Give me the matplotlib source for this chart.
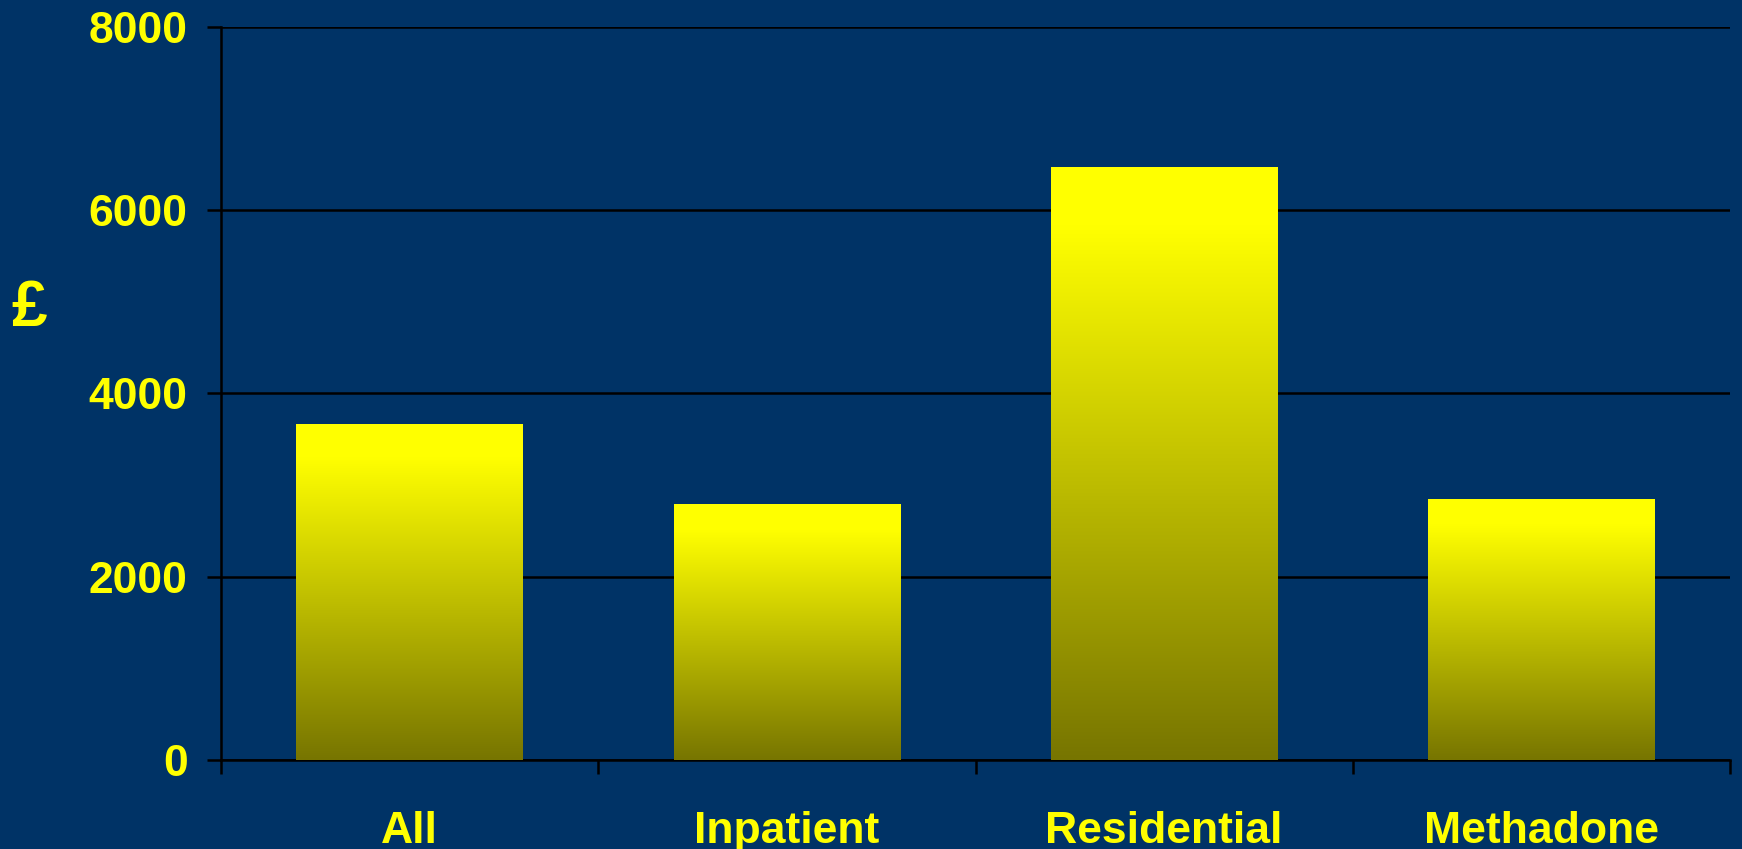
import numpy as np
import matplotlib
matplotlib.use("Agg")
import matplotlib.pyplot as plt
from matplotlib.colors import LinearSegmentedColormap

# Chart data
categories = ["All", "Inpatient", "Residential", "Methadone"]
costs = [3670, 2790, 6470, 2850]
y_ticks = [0, 2000, 4000, 6000, 8000]

bg = "#003366"
text_col = "#FFFF00"

plt.rcParams['font.family'] = ['Liberation Sans', 'DejaVu Sans']

fig = plt.figure(figsize=(17.42, 8.49), dpi=100, facecolor=bg)
ax = fig.add_axes([221 / 1742, 1 - 760 / 849, (1730 - 221) / 1742, (760 - 26.7) / 849])
ax.set_facecolor(bg)

x = np.arange(len(categories)) + 0.5
bars = ax.bar(x, costs, width=0.6, color="none", edgecolor="none", zorder=3)

# vertical gradient, dark olive at bottom -> yellow at top
cmap = LinearSegmentedColormap.from_list("yel", [(0, "#777500"), (0.9, "#FFFF00"), (1, "#FFFF00")])
grad = np.linspace(0, 1, 256).reshape(-1, 1)
for b in bars:
    x0, w, h = b.get_x(), b.get_width(), b.get_height()
    im = ax.imshow(grad, cmap=cmap, origin="lower", aspect="auto",
                   extent=[x0, x0 + w, 0, h], zorder=3)
    im.set_clip_path(b)

ax.set_xlim(0, len(categories))
ax.set_ylim(0, 8000)
ax.set_yticks(y_ticks)
ax.set_yticklabels([str(v) for v in y_ticks])
ax.yaxis.grid(True, color="black", linewidth=1.8, zorder=1)
ax.set_axisbelow(True)

# category labels at centres, tick marks at boundaries
ax.set_xticks(x)
ax.set_xticklabels(categories)
ax.set_xticks(np.arange(len(categories) + 1), minor=True)
ax.tick_params(axis="x", which="major", length=0, pad=37)
ax.tick_params(axis="x", which="minor", length=10, width=1.8, color="black", direction="out")
ax.tick_params(axis="y", length=10, width=1.8, color="black", direction="out", pad=14)

for lbl in ax.get_xticklabels() + ax.get_yticklabels():
    lbl.set_color(text_col)
    lbl.set_fontsize(32)
    lbl.set_fontweight("bold")

for side in ["top", "right"]:
    ax.spines[side].set_visible(False)
for side in ["left", "bottom"]:
    ax.spines[side].set_color("black")
    ax.spines[side].set_linewidth(1.8)

fig.text(29 / 1742, 1 - 309 / 849, "£", color=text_col, fontsize=46,
         fontweight="bold", ha="center", va="center")

fig.savefig("out.png", dpi=100, facecolor=bg)
